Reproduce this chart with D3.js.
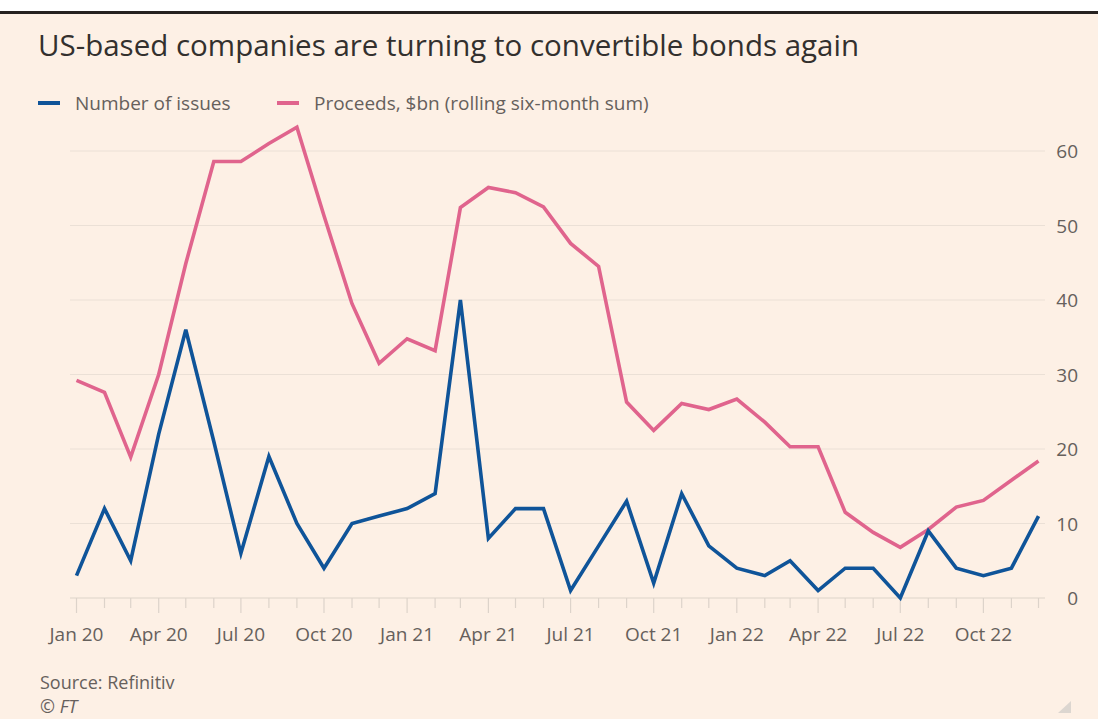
<!DOCTYPE html>
<html>
<head>
<meta charset="utf-8">
<script src="https://cdn.jsdelivr.net/npm/d3@7"></script>
<style>
  html, body { margin: 0; padding: 0; background: #ffffff; }
  svg { display: block; }
</style>
</head>
<body>
<svg id="chart" width="1098" height="719"></svg>
<script>
// Monthly series, Jan 2020 – Dec 2022
const months = d3.utcMonths(new Date(Date.UTC(2020, 0, 1)), new Date(Date.UTC(2023, 0, 1)));

const issues = [
  3, 12, 5, 22, 36, 21, 6, 19, 10, 4, 10, 11,
  12, 14, 40, 8, 12, 12, 1, 7, 13, 2, 14, 7,
  4, 3, 5, 1, 4, 4, 0, 9, 4, 3, 4, 11
];

const proceeds = [
  29.2, 27.6, 18.9, 30.0, 44.9, 58.6, 58.6, 61.0, 63.2, 51.3, 39.5, 31.5,
  34.8, 33.2, 52.4, 55.1, 54.4, 52.5, 47.6, 44.5, 26.3, 22.5, 26.1, 25.3,
  26.7, 23.6, 20.3, 20.3, 11.5, 8.8, 6.8, 9.2, 12.2, 13.1, 15.8, 18.4
];

const yTicks = [0, 10, 20, 30, 40, 50, 60];

const seriesNames = ["Number of issues", "Proceeds, $bn (rolling six-month sum)"];
const seriesColors = ["#0f5499", "#e0648d"];

const titleText = "US-based companies are turning to convertible bonds again";
const sourceText = "Source: Refinitiv";
const creditText = "\u00a9 FT";

const font = "'Open Sans', 'Noto Sans', sans-serif";
const labelSize = 19;
const labelColor = "#66605c";

const svg = d3.select("#chart");
const W = 1098, H = 719;

// page background
svg.append("rect").attr("width", W).attr("height", H).attr("fill", "#ffffff");
svg.append("rect").attr("x", 0).attr("y", 12).attr("width", W).attr("height", H - 12).attr("fill", "#fdf0e5");
svg.append("rect").attr("x", 0).attr("y", 11).attr("width", W).attr("height", 3).attr("fill", "#262220");

// title
svg.append("text")
  .attr("x", 38).attr("y", 56)
  .attr("font-family", font).attr("font-size", 29.5)
  .attr("fill", "#33302e")
  .text(titleText);

// legend
const legend = svg.append("g");
const legendX = [38, 277];
seriesNames.forEach((name, i) => {
  legend.append("line")
    .attr("x1", legendX[i]).attr("x2", legendX[i] + 22)
    .attr("y1", 103).attr("y2", 103)
    .attr("stroke", seriesColors[i]).attr("stroke-width", 4);
  legend.append("text")
    .attr("x", legendX[i] + 37).attr("y", 110)
    .attr("font-family", font).attr("font-size", labelSize)
    .attr("fill", labelColor)
    .text(name);
});

// scales
const x = d3.scaleUtc()
  .domain([months[0], months[months.length - 1]])
  .range([76.5, 1038.5]);

const y = d3.scaleLinear()
  .domain([0, 60])
  .range([598, 151]);

// gridlines
svg.append("g")
  .selectAll("line")
  .data(yTicks.filter(d => d > 0))
  .join("line")
  .attr("x1", 70).attr("x2", 1045)
  .attr("y1", d => y(d)).attr("y2", d => y(d))
  .attr("stroke", "#ebe0d6").attr("stroke-width", 1);

// y-axis labels on the right
svg.append("g")
  .selectAll("text")
  .data(yTicks)
  .join("text")
  .attr("x", 1078).attr("y", d => y(d) + 7)
  .attr("text-anchor", "end")
  .attr("font-family", font).attr("font-size", labelSize)
  .attr("fill", labelColor)
  .text(d => d);

// x axis: baseline, monthly ticks, quarterly labels
const xAxis = svg.append("g");
xAxis.append("line")
  .attr("x1", 70).attr("x2", 1045)
  .attr("y1", y(0)).attr("y2", y(0))
  .attr("stroke", "#ddd3ca").attr("stroke-width", 1.2);

xAxis.selectAll("line.tick")
  .data(months)
  .join("line")
  .attr("class", "tick")
  .attr("x1", d => x(d)).attr("x2", d => x(d))
  .attr("y1", y(0))
  .attr("y2", d => y(0) + (d.getUTCMonth() % 3 === 0 ? 15 : 10))
  .attr("stroke", "#ddd3ca").attr("stroke-width", 1.2);

const fmt = d3.utcFormat("%b %y");
xAxis.selectAll("text")
  .data(months.filter(d => d.getUTCMonth() % 3 === 0))
  .join("text")
  .attr("x", d => x(d)).attr("y", 641)
  .attr("text-anchor", "middle")
  .attr("font-family", font).attr("font-size", labelSize)
  .attr("fill", labelColor)
  .text(d => fmt(d));

// lines
const line = d3.line()
  .x((d, i) => x(months[i]))
  .y(d => y(d))
  .curve(d3.curveLinear);

[[proceeds, seriesColors[1]], [issues, seriesColors[0]]].forEach(([vals, color]) => {
  svg.append("path")
    .datum(vals)
    .attr("d", line)
    .attr("fill", "none")
    .attr("stroke", color)
    .attr("stroke-width", 3.6)
    .attr("stroke-linejoin", "miter")
    .attr("stroke-miterlimit", 4);
});

// footer
svg.append("text")
  .attr("x", 40).attr("y", 689)
  .attr("font-family", font).attr("font-size", 18)
  .attr("fill", labelColor)
  .text(sourceText);

svg.append("text")
  .attr("x", 40).attr("y", 713)
  .attr("font-family", font).attr("font-size", 18)
  .attr("font-style", "italic")
  .attr("fill", labelColor)
  .text(creditText);

// small resize grip in the corner
svg.append("path")
  .attr("d", "M1058,713 L1071,701 L1071,713 Z")
  .attr("fill", "#dcd6d0");
</script>
</body>
</html>
